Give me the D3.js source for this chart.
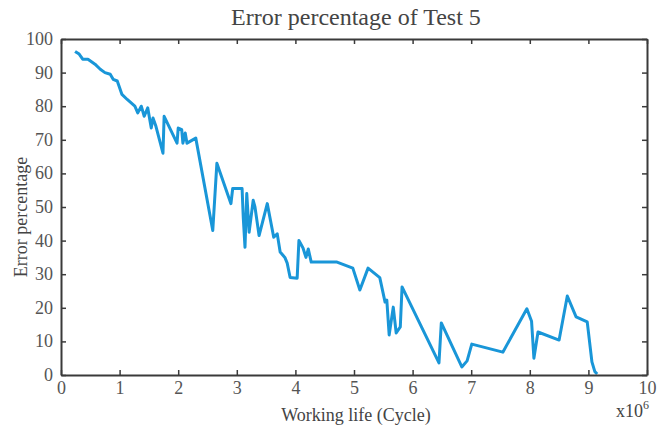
<!DOCTYPE html>
<html lang="en">
<head>
<meta charset="UTF-8">
<title>Error percentage of Test 5</title>
<script src="https://d3js.org/d3.v7.min.js"></script>
<style>
    body { margin: 0; background: #fff; }
    svg { display: block; font-family: "Liberation Serif", "DejaVu Serif", serif; }
    .lbl { fill: #444; }
</style>
</head>
<body>
<svg width="669" height="428"></svg>
<script>
// working life in millions of cycles, error in percent
const cycles = [0.24, 0.31, 0.37, 0.46, 0.58, 0.67, 0.75, 0.84, 0.89, 0.96, 0.99, 1.04, 1.13, 1.26,
    1.31, 1.37, 1.42, 1.48, 1.54, 1.57, 1.62, 1.74, 1.76, 1.98, 2.00, 2.06, 2.08, 2.12, 2.15, 2.30,
    2.59, 2.66, 2.90, 2.93, 3.09, 3.11, 3.14, 3.17, 3.21, 3.28, 3.31, 3.38, 3.52, 3.63, 3.69, 3.74,
    3.82, 3.86, 3.91, 4.03, 4.06, 4.13, 4.18, 4.22, 4.27, 4.71, 4.98, 5.10, 5.24, 5.44, 5.53, 5.56,
    5.60, 5.67, 5.72, 5.79, 5.82, 6.45, 6.49, 6.84, 6.93, 7.01, 7.54, 7.95, 8.03, 8.07, 8.14, 8.50,
    8.64, 8.79, 8.98, 9.06, 9.11, 9.15];
const errors = [96.3, 95.5, 94, 94, 92.5, 91, 90, 89.5, 88, 87.5, 86, 83.5, 82, 80,
    78, 80, 77, 79.5, 73.5, 76.5, 74, 66, 77, 69, 73.5, 73, 69, 72, 69, 70.5,
    43, 63, 51, 55.5, 55.5, 47, 38, 54, 42.5, 52, 50, 41.5, 51, 41, 42, 36.6,
    35, 33.3, 29, 28.8, 40, 37.8, 35, 37.5, 33.6, 33.6, 31.8, 25.3, 31.8, 29, 21.7, 22.3,
    11.9, 20.2, 12.5, 14.3, 26.2, 3.6, 15.5, 2.4, 4.2, 9.2, 6.8, 19.7, 16, 5, 12.8, 10.4,
    23.5, 17.3, 15.8, 3.9, 1, 0.3];
const xTicks = [0, 1, 2, 3, 4, 5, 6, 7, 8, 9, 10];
const yTicks = [0, 10, 20, 30, 40, 50, 60, 70, 80, 90, 100];

const svg = d3.select("svg");
const mLeft = 61, mRight = 647, mTop = 39, mBottom = 375;

const x = d3.scaleLinear().domain([0, 10]).range([mLeft, mRight]);
const y = d3.scaleLinear().domain([0, 100]).range([mBottom, mTop]);

const data = cycles.map((c, i) => ({ c, e: errors[i] }));

// data line
svg.append("path")
    .datum(data)
    .attr("fill", "none")
    .attr("stroke", "#1996d8")
    .attr("stroke-width", 3)
    .attr("stroke-linejoin", "round")
    .attr("d", d3.line().x(d => x(d.c)).y(d => y(d.e)));

// axes with inward ticks, matlab style
function styleAxis(g) {
    g.attr("font-family", "Liberation Serif, DejaVu Serif, serif");
    g.select(".domain").attr("stroke", "#3a3a3a").attr("stroke-width", 2);
    g.selectAll(".tick line").attr("stroke", "#3a3a3a").attr("stroke-width", 1.5);
    g.selectAll(".tick text")
        .attr("fill", "#555")
        .style("font-size", "18px");
}

svg.append("g")
    .attr("transform", `translate(0,${mBottom})`)
    .call(d3.axisBottom(x).tickValues(xTicks).tickSize(-5).tickSizeOuter(0).tickPadding(6))
    .call(styleAxis);

svg.append("g")
    .attr("transform", `translate(${mLeft},0)`)
    .call(d3.axisLeft(y).tickValues(yTicks).tickSize(-5).tickSizeOuter(0).tickPadding(8))
    .call(styleAxis)
    .call(g => g.selectAll(".tick text").attr("dy", "0.3em"));

svg.append("g")
    .attr("transform", `translate(0,${mTop})`)
    .call(d3.axisTop(x).tickValues(xTicks).tickSize(-5).tickSizeOuter(0).tickFormat(""))
    .call(styleAxis);

svg.append("g")
    .attr("transform", `translate(${mRight},0)`)
    .call(d3.axisRight(y).tickValues(yTicks).tickSize(-5).tickSizeOuter(0).tickFormat(""))
    .call(styleAxis);

// texts
svg.append("text")
    .attr("class", "lbl")
    .attr("x", 356)
    .attr("y", 25)
    .attr("text-anchor", "middle")
    .style("font-size", "24px")
    .text("Error percentage of Test 5");

svg.append("text")
    .attr("class", "lbl")
    .attr("transform", "translate(27,217) rotate(-90)")
    .attr("text-anchor", "middle")
    .style("font-size", "18px")
    .text("Error percentage");

svg.append("text")
    .attr("class", "lbl")
    .attr("x", 356)
    .attr("y", 421)
    .attr("text-anchor", "middle")
    .style("font-size", "18px")
    .text("Working life (Cycle)");

const mult = svg.append("text")
    .attr("class", "lbl")
    .attr("x", 616)
    .attr("y", 417)
    .style("font-size", "18px")
    .text("x10");
mult.append("tspan")
    .attr("dy", -8)
    .style("font-size", "12px")
    .text("6");
</script>
</body>
</html>
